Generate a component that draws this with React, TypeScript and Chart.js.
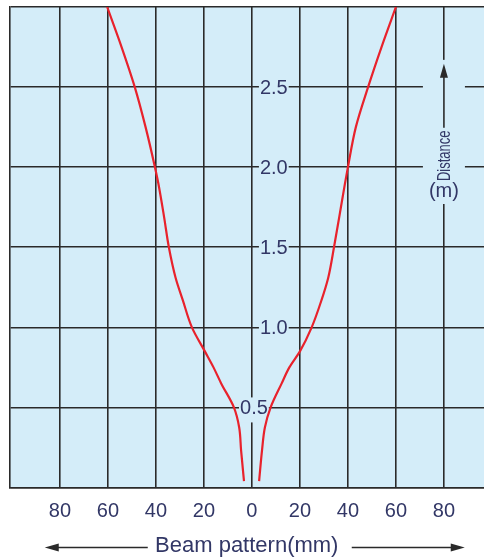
import React, { useEffect, useRef } from "react";
import { Chart, registerables } from "chart.js";

Chart.register(...registerables);

// distance from sensor (m)
const distance = [0.04, 0.23, 0.375, 0.5, 0.65, 0.75, 0.85, 1.0, 1.17, 1.31, 1.5, 1.69, 1.9, 2.0, 2.25, 2.5, 2.75, 3.0];
// beam half-width on the right side (mm)
const rightBeam = [3.0, 4.2, 5.4, 7.8, 12.4, 15.6, 20.0, 24.9, 29.0, 31.8, 34.2, 36.4, 38.8, 40.0, 43.3, 48.4, 54.0, 60.0];
// beam half-width on the left side (mm)
const leftBeam = [-3.3, -4.5, -5.3, -7.5, -12.8, -16.0, -19.6, -25.0, -28.8, -31.8, -34.6, -36.6, -39.0, -40.4, -44.3, -48.8, -54.3, -60.3];

const xTickValues = [-80, -60, -40, -20, 0, 20, 40, 60, 80];
const yLabelValues = [0.5, 1.0, 1.5, 2.0, 2.5];
const yLabels = ["0.5", "1.0", "1.5", "2.0", "2.5"];
const xTitle = "Beam pattern(mm)";
const yTitle = "Distance";
const yUnit = "(m)";

const FONT = '"Liberation Sans", Arial, Helvetica, sans-serif';
const BG = "#d4edf9";
const GRID = "#2a2a2a";
const TEXT = "#323766";
const RED = "#e8222c";

const overlay = {
  id: "overlay",
  beforeDraw(chart: any) {
    const { ctx, chartArea } = chart;
    ctx.save();
    ctx.fillStyle = BG;
    ctx.fillRect(chartArea.left, chartArea.top, chartArea.right - chartArea.left, chartArea.bottom - chartArea.top);
    ctx.restore();
  },
  beforeDatasetsDraw(chart: any) {
    const { ctx, scales } = chart;
    const x = scales.x;
    const y = scales.y;
    ctx.save();
    ctx.font = `20px ${FONT}`;
    const x0 = x.getPixelForValue(0);
    yLabelValues.forEach((v, i) => {
      const py = y.getPixelForValue(v);
      const w = ctx.measureText(yLabels[i]).width;
      const centered = i === 0;
      const lx = centered ? x0 - w / 2 + 2 : x0 + 8;
      ctx.fillStyle = BG;
      if (centered) ctx.fillRect(lx - 1, py - 10, w + 2, 25);
      else ctx.fillRect(lx - 1, py - 8, w + 2, 16);
    });
    // distance label box on the right
    const ax = x.getPixelForValue(80);
    const boxTop = y.getPixelForValue(2.67);
    const boxBot = y.getPixelForValue(1.77);
    ctx.fillStyle = BG;
    ctx.fillRect(ax - 21, boxTop, 42, boxBot - boxTop);
    // arrow
    ctx.strokeStyle = GRID;
    ctx.lineWidth = 1.6;
    ctx.beginPath();
    ctx.moveTo(ax, boxTop + 68);
    ctx.lineTo(ax, boxTop + 16);
    ctx.stroke();
    ctx.fillStyle = GRID;
    ctx.beginPath();
    ctx.moveTo(ax, boxTop + 4);
    ctx.lineTo(ax - 4, boxTop + 18);
    ctx.lineTo(ax + 4, boxTop + 18);
    ctx.closePath();
    ctx.fill();
    // rotated title
    ctx.fillStyle = TEXT;
    ctx.save();
    ctx.translate(ax, boxTop + 96);
    ctx.rotate(-Math.PI / 2);
    ctx.scale(0.72, 1);
    ctx.font = `18px ${FONT}`;
    ctx.textAlign = "center";
    ctx.textBaseline = "middle";
    ctx.fillText(yTitle, 0, 1);
    ctx.restore();
    ctx.font = `20px ${FONT}`;
    ctx.textAlign = "center";
    ctx.textBaseline = "middle";
    ctx.fillText(yUnit, ax, boxTop + 132);
    ctx.restore();
  },
  afterDraw(chart: any) {
    const { ctx, scales, chartArea } = chart;
    const x = scales.x;
    const y = scales.y;
    ctx.save();
    ctx.font = `20px ${FONT}`;
    ctx.textBaseline = "middle";
    ctx.fillStyle = TEXT;
    const x0 = x.getPixelForValue(0);
    yLabelValues.forEach((v, i) => {
      const py = y.getPixelForValue(v);
      const w = ctx.measureText(yLabels[i]).width;
      const lx = i === 0 ? x0 - w / 2 + 2 : x0 + 8;
      ctx.fillText(yLabels[i], lx, py + 1);
    });
    // bottom arrows
    const cx = (chartArea.left + chartArea.right) / 2;
    const ay = chartArea.bottom + 60;
    ctx.strokeStyle = GRID;
    ctx.fillStyle = GRID;
    ctx.lineWidth = 1.6;
    ctx.beginPath();
    ctx.moveTo(cx - 99, ay);
    ctx.lineTo(cx - 195, ay);
    ctx.moveTo(cx + 105, ay);
    ctx.lineTo(cx + 210, ay);
    ctx.stroke();
    ctx.beginPath();
    ctx.moveTo(cx - 202, ay);
    ctx.lineTo(cx - 188, ay - 4);
    ctx.lineTo(cx - 188, ay + 4);
    ctx.closePath();
    ctx.fill();
    ctx.beginPath();
    ctx.moveTo(cx + 218, ay);
    ctx.lineTo(cx + 204, ay - 4);
    ctx.lineTo(cx + 204, ay + 4);
    ctx.closePath();
    ctx.fill();
    ctx.restore();
  },
};

export default function App() {
  const ref = useRef<HTMLCanvasElement | null>(null);
  useEffect(() => {
    if (!ref.current) return;
    const lineDs = (xs: number[]) => ({
      data: distance.map((d, i) => ({ x: xs[i], y: d })),
      borderColor: RED,
      borderWidth: 2.2,
      pointRadius: 0,
      cubicInterpolationMode: "monotone",
      fill: false,
    });
    const chart = new Chart(ref.current, {
      type: "line",
      data: { datasets: [lineDs(rightBeam), lineDs(leftBeam)] },
      options: {
        animation: false,
        responsive: false,
        events: [],
        indexAxis: "y",
        layout: { padding: { left: 9.5, top: 7, right: 0, bottom: 1.5 } },
        plugins: { legend: { display: false }, tooltip: { enabled: false } },
        scales: {
          x: {
            type: "linear",
            min: -101,
            max: 96.7,
            afterBuildTicks: (scale: any) => {
              scale.ticks = xTickValues.map((v) => ({ value: v }));
            },
            grid: { color: GRID, lineWidth: 1.6, drawTicks: false },
            border: { display: true, color: GRID, width: 1.6 },
            ticks: {
              padding: 13.5,
              color: TEXT,
              font: { family: FONT, size: 20, lineHeight: 1 },
              maxRotation: 0,
              autoSkip: false,
              callback: (v: any) => String(Math.abs(Number(v))),
            },
            title: {
              display: true,
              text: xTitle,
              color: TEXT,
              font: { family: FONT, size: 22, lineHeight: 1 },
              padding: { top: 0, bottom: 0 },
            },
          },
          y: {
            type: "linear",
            min: 0,
            max: 3,
            reverse: false,
            grid: { color: GRID, lineWidth: 1.6, drawTicks: false },
            border: { display: true, color: GRID, width: 1.6 },
            ticks: { stepSize: 0.5, display: false },
          },
        },
      },
      plugins: [overlay],
    } as any);
    return () => chart.destroy();
  }, []);
  return (
    <div style={{ position: "absolute", left: 0, top: 0, width: 484, height: 558, background: "#fff" }}>
      <canvas ref={ref} width={484} height={558} style={{ width: 484, height: 558, display: "block" }} />
    </div>
  );
}
